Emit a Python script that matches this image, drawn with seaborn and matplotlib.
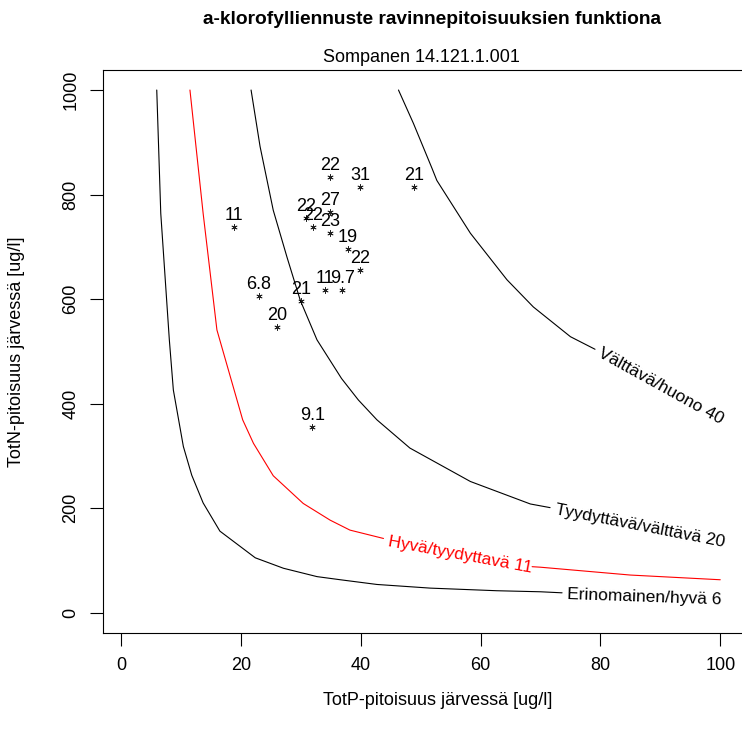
import matplotlib
matplotlib.use("Agg")
import matplotlib.pyplot as plt
import seaborn as sns
import numpy as np

# ---- observations (TotP, TotN, chlorophyll label) ----
tp_obs = [34.9, 39.9, 48.9, 34.9, 30.9, 32.0, 34.9, 37.8, 39.9, 34.1, 36.9, 30.0, 23.0, 26.0, 18.9, 31.9]
tn_obs = [834, 815, 815, 767, 756, 738, 727, 695, 656, 617, 617, 597, 606, 546, 738, 355]
chl_lab = ["22", "31", "21", "27", "22", "22", "23", "19", "22", "11", "9.7", "21", "6.8", "20", "11", "9.1"]

# ---- contour curves (chl = 6, 11, 20, 40) ----
tp_c6 = [5.96, 6.63, 8.06, 8.73, 10.4, 11.8, 13.7, 16.5, 22.4, 27.1, 32.7, 36.6, 42.7, 51.6, 62.7, 70.0, 73.6]
tn_c6 = [1000, 764, 522, 426, 318, 263, 210, 156, 105, 85, 69, 63, 54, 47, 42, 40, 38]

tp_c11a = [11.5, 13.7, 16.0, 17.6, 20.3, 22.1, 25.4, 30.4, 34.9, 38.2, 43.8]
tn_c11a = [1000, 764, 541, 477, 369, 324, 262, 209, 177, 158, 142]
tp_c11b = [68.6, 70.0, 85.0, 100.0]
tn_c11b = [88, 87, 72, 63]

tp_c20 = [21.7, 23.2, 25.4, 27.7, 29.9, 32.7, 36.8, 39.6, 42.7, 48.2, 58.3, 68.3, 71.6]
tn_c20 = [1000, 892, 770, 680, 598, 522, 448, 407, 369, 315, 251, 208, 201]

tp_c40 = [46.3, 48.8, 51.9, 52.7, 58.3, 64.4, 68.8, 75.0, 79.1]
tn_c40 = [1000, 936, 850, 827, 726, 637, 585, 528, 504]

contour_labels = ["Erinomainen/hyvä 6", "Hyvä/tyydyttavä 11", "Tyydyttävä/välttävä 20", "Välttävä/huono 40"]
label_tp = [87.3, 56.6, 86.6, 90.0]
label_tn = [30, 110, 166, 434]
label_rot = [-2, -10.5, -11, -29]
label_col = ["black", "red", "black", "black"]

x_ticks = [0, 20, 40, 60, 80, 100]
y_ticks = [0, 200, 400, 600, 800, 1000]

sns.set_theme(style="white")
plt.rcParams["font.family"] = ["Liberation Sans", "DejaVu Sans"]
plt.rcParams["text.color"] = "black"
plt.rcParams["axes.labelcolor"] = "black"
plt.rcParams["xtick.color"] = "black"
plt.rcParams["ytick.color"] = "black"

W, H = 742, 733
fig = plt.figure(figsize=(W / 100, H / 100), dpi=100)
left, right, top, bottom = 103.3, 744.0, 70.0, 632.7
ax = fig.add_axes([left / W, 1 - bottom / H, (right - left) / W, (bottom - top) / H])

lw = 0.8
for xs, ys, c in [(tp_c6, tn_c6, "black"), (tp_c11a, tn_c11a, "red"), (tp_c11b, tn_c11b, "red"),
                  (tp_c20, tn_c20, "black"), (tp_c40, tn_c40, "black")]:
    sns.lineplot(x=xs, y=ys, sort=False, estimator=None, color=c, linewidth=lw, ax=ax)

sns.scatterplot(x=tp_obs, y=tn_obs, marker=(6, 2, 0), color="#222222", s=16, linewidth=0.6, ax=ax)

fs = 13.0
for x, y, t in zip(tp_obs, tn_obs, chl_lab):
    ax.annotate(t, (x, y), xytext=(0, 5.0), textcoords="offset points", ha="center", va="baseline",
                fontsize=fs, color="black")

for t, x, y, r, c in zip(contour_labels, label_tp, label_tn, label_rot, label_col):
    ax.text(x, y, t, rotation=r, rotation_mode="anchor", ha="center", va="center", fontsize=12.5, color=c)

ax.set_xlim(-2.96, 103.96)
ax.set_ylim(-38.3, 1038.3)
ax.set_xticks(x_ticks)
ax.set_yticks(y_ticks)
ax.set_xticklabels([str(v) for v in x_ticks], fontsize=fs)
ax.set_yticklabels([str(v) for v in y_ticks], fontsize=fs, rotation=90, va="center")
ax.tick_params(axis="both", direction="out", length=9.4, width=0.8, color="black", bottom=True, left=True)
ax.tick_params(axis="x", pad=8)
ax.tick_params(axis="y", pad=8)
for s in ax.spines.values():
    s.set_visible(True)
    s.set_color("black")
    s.set_linewidth(0.8)
ax.grid(False)

ax.set_xlabel("TotP-pitoisuus järvessä [ug/l]", fontsize=fs)
ax.set_ylabel("TotN-pitoisuus järvessä [ug/l]", fontsize=fs)
ax.xaxis.set_label_coords((437.5 - left) / (right - left), -(692 - bottom) / (bottom - top))
ax.yaxis.set_label_coords(-(left - 25) / (right - left), 0.5)

fig.text(432 / W, 1 - 20 / H, "a-klorofylliennuste ravinnepitoisuuksien funktiona", ha="center", va="center",
         fontsize=13.8, fontweight="bold")
fig.text(421 / W, 1 - 57 / H, "Sompanen 14.121.1.001", ha="center", va="center", fontsize=fs)

fig.savefig("out.png", dpi=100, facecolor="white")
